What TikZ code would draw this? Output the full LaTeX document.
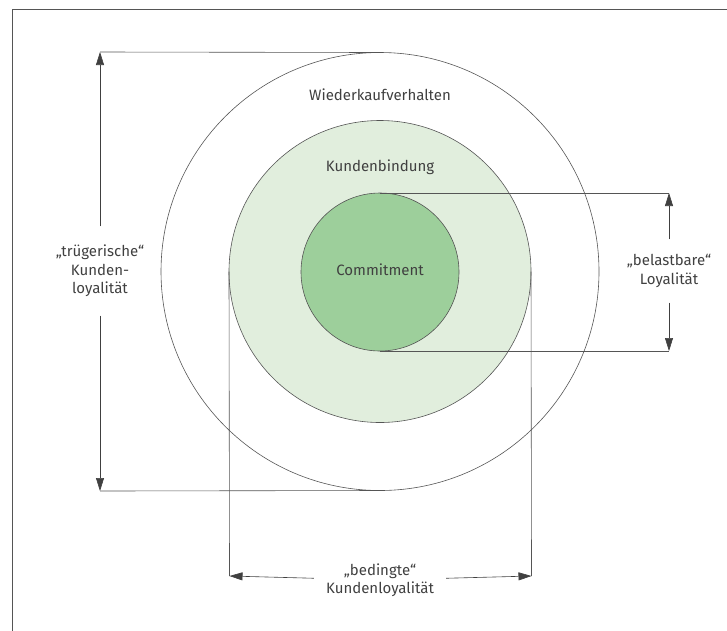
\documentclass[tikz,border=0pt]{standalone}
\usepackage{fontspec}
\setmainfont{Fira Sans}
\usetikzlibrary{arrows.meta}
\definecolor{ink}{HTML}{404040}
\definecolor{rule}{HTML}{555555}
\definecolor{bindfill}{HTML}{E1EEDD}
\definecolor{commitfill}{HTML}{9DCF9B}
\begin{document}
\begin{tikzpicture}[x=1pt,y=-1pt,
  ring/.style={circle,draw=rule,line width=0.6pt,inner sep=0pt,outer sep=0pt},
  lbl/.style={text=ink,font=\fontsize{15}{18.5}\selectfont,align=center},
  guide/.style={draw=rule,line width=0.6pt},
  dim/.style={guide,-{Triangle[length=13pt,width=8pt]},color=ink},
]
\useasboundingbox (0,0) rectangle (727,630);
\clip (0,0) rectangle (727,630);
% outer frame (only its top and left sides fall inside the page)
\draw[guide] (12,640) -- (12,9) -- (740,9);

% nested rings
\node[ring,minimum size=438pt] (outer) at (380,271.5) {};
\node[ring,fill=bindfill,minimum size=302pt] (mid) at (380,271.5) {};
\node[ring,fill=commitfill,minimum size=158pt] (inner) at (380,272) {};

\node[lbl] (wkv) at (380,95) {Wiederkaufverhalten};
\node[lbl] (kb) at (380,167) {Kundenbindung};
\node[lbl] (cm) at (380,270) {Commitment};

% left dimension: outer ring
\coordinate (tT) at (100,52);
\coordinate (tB) at (100,491);
\draw[guide] (outer.north) -- (tT);
\draw[guide] (outer.south) -- (tB);
\node[lbl,inner ysep=18.5pt] (trug) at (100,271) {„trügerische“\\Kunden-\\loyalität};
\draw[dim] (trug) -- (tT);
\draw[dim] (trug) -- (tB);

% right dimension: inner ring
\coordinate (bT) at (669,193);
\coordinate (bB) at (669,351);
\draw[guide] (inner.north) -- (bT);
\draw[guide] (inner.south) -- (bB);
\node[lbl,inner ysep=15pt] (bel) at (669,271) {„belastbare“\\Loyalität};
\draw[dim] (bel) -- (bT);
\draw[dim] (bel) -- (bB);

% bottom dimension: middle ring
\coordinate (kL) at (229.5,576);
\coordinate (kR) at (531.5,576);
\draw[guide] (mid.west) -- (kL);
\draw[guide] (mid.east) -- (kR);
\node[lbl,inner xsep=12pt] (bed) at (380,580) {„bedingte“\\Kundenloyalität};
\draw[dim] (bed) -- (kL);
\draw[dim] (bed) -- (kR);
\end{tikzpicture}
\end{document}
